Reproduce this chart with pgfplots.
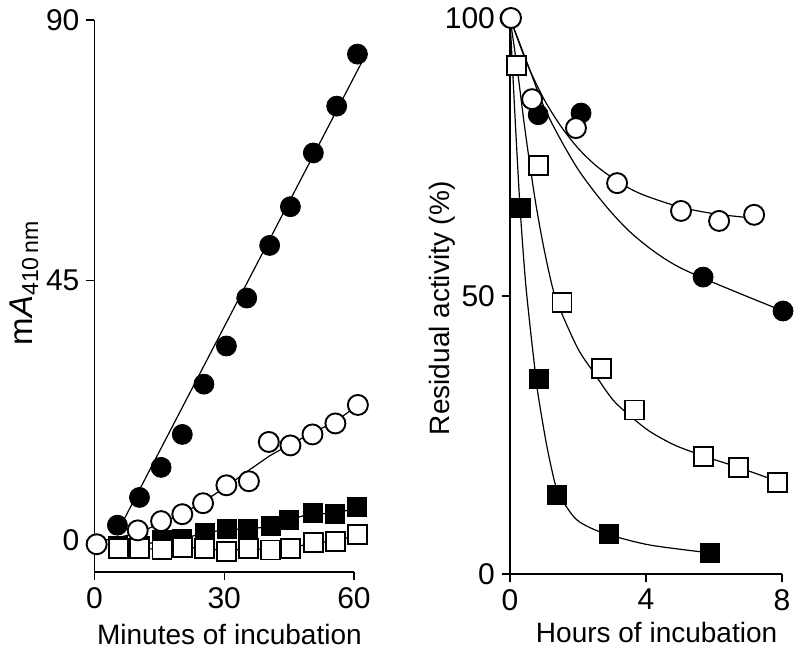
\documentclass[border=0pt]{standalone}
\usepackage{fontspec}
\setmainfont{Liberation Sans}
\usepackage{pgfplots}
\pgfplotsset{compat=1.18}
\begin{document}
\begin{tikzpicture}
\pgfplotsset{
  panel/.style={
    scale only axis, clip=false,
    axis x line*=bottom, axis y line*=left,
    axis line style={-, line width=0.6pt},
    tick align=outside, major tick length=4pt,
    major tick style={black, line width=0.6pt},
    tick label style={font=\fontsize{15}{17}\selectfont},
    label style={font=\fontsize{14}{16}\selectfont},
    /pgf/number format/assume math mode=true,
  },
  fit/.style={black, line width=0.6pt, no markers},
  fc/.style={only marks, mark=*, mark size=5pt, mark options={fill=black, draw=black}},
  oc/.style={only marks, mark=*, mark size=5pt, mark options={fill=white, draw=black, line width=0.95pt}},
  fs/.style={only marks, mark=square*, mark size=4.75pt, mark options={fill=black, draw=black}},
  os/.style={only marks, mark=square*, mark size=4.75pt, mark options={fill=white, draw=black, line width=0.95pt}},
}
\useasboundingbox (0,0) rectangle (400pt,326.5pt);

% left: absorbance vs minutes
\begin{axis}[panel,
  at={(47.25pt,40.5pt)}, anchor=south west,
  width=129.75pt, height=276pt,
  xmin=0, xmax=60, ymin=-5.5, ymax=90,
  xtick={0,30,60}, ytick={0,45,90},
  xlabel={Minutes of incubation},
  ylabel={m\textit{A}\textsubscript{410\,nm}},
  xlabel style={at={(axis description cs:0.52,0)}, anchor=base, yshift=-36.5pt},
  ylabel style={at={(axis description cs:0,0.524)}, anchor=base, yshift=30.75pt,
    font=\fontsize{16.5}{18}\selectfont},
]
\addplot[fit] coordinates {(6.0,2.4) (61.8,82.7)};
\addplot[fit] coordinates {(0.5,-0.3) (10,1.2) (15.4,3.0) (20.3,4.6) (25.1,6.6) (30.5,9.3)
  (35.5,12.0) (40.5,14.6) (45.3,16.6) (50.4,18.6) (55.7,20.5) (60.9,23.4)};
\addplot[fit] coordinates {(5.4,-1.0) (10.5,-1.0) (15.5,0.0) (20.3,0.3) (25.5,1.2) (30.5,1.9)
  (35.5,1.9) (40.7,2.4) (45.0,3.5) (50.4,4.7) (55.5,4.5) (60.7,5.7)};
\addplot[fit] coordinates {(5.5,-1.4) (10.5,-1.4) (15.6,-1.6) (20.3,-1.2) (25.5,-1.4) (30.5,-1.9)
  (35.7,-1.4) (40.7,-1.7) (45.4,-1.4) (50.7,-0.4) (55.8,-0.2) (60.9,1.0)};
% filled squares
\addplot[fs] coordinates {(5.4,-1.0) (10.5,-1.0) (15.5,0.0) (20.3,0.3) (25.5,1.2) (30.5,1.9)
  (35.5,1.9) (40.7,2.4) (45.0,3.5) (50.4,4.7) (55.5,4.5) (60.7,5.7)};
% open squares
\addplot[os] coordinates {(5.5,-1.4) (10.5,-1.4) (15.6,-1.6) (20.3,-1.2) (25.5,-1.4) (30.5,-1.9)
  (35.7,-1.4) (40.7,-1.7) (45.4,-1.4) (50.7,-0.4) (55.8,-0.2) (60.9,1.0)};
% open circles
\addplot[oc] coordinates {(0.5,-0.7) (10.0,1.7) (15.4,3.3) (20.3,4.5) (25.1,6.4) (30.5,9.5)
  (35.7,10.2) (40.3,17.0) (45.3,16.4) (50.4,18.3) (55.7,20.2) (60.9,23.4)};
% filled circles
\addplot[fc] coordinates {(5.3,2.6) (10.4,7.4) (15.4,12.6) (20.3,18.3) (25.3,27.0) (30.5,33.6)
  (35.2,41.9) (40.5,51.0) (45.3,57.7) (50.6,67.0) (56.0,75.1) (60.8,84.1)};
\end{axis}

% right: residual activity vs hours
\begin{axis}[panel,
  at={(255pt,39.5pt)}, anchor=south west,
  width=136pt, height=278pt,
  xmin=0, xmax=8, ymin=0, ymax=100,
  xtick={0,4,8}, ytick={0,50,100},
  xlabel={Hours of incubation},
  ylabel={Residual activity (\%)},
  xlabel style={at={(axis description cs:0.539,0)}, anchor=base, yshift=-34.5pt},
  ylabel style={at={(axis description cs:0,0.478)}, anchor=base, yshift=30pt},
]
\addplot[fit, smooth, tension=0.5] coordinates {(0,100) (0.5,91.8) (1,85.4) (1.5,80.5) (2,76.6)
  (2.5,73.6) (3,71.3) (3.5,69.4) (4,68.0) (5,66.0) (6,64.8) (7.15,64.0)};
\addplot[fit, smooth, tension=0.5] coordinates {(0,100) (0.5,92) (1,84) (1.5,78) (2,72.8)
  (2.5,68.6) (3,64.9) (3.5,61.7) (4,59.1) (4.5,56.9) (5,55.1) (5.68,53.2) (6.5,51.1) (7.3,49.1)
  (8.03,47.3)};
\addplot[fit, smooth, tension=0.5] coordinates {(0,100) (0.2,91.5) (0.45,79.5) (0.74,67.3)
  (1.0,58.5) (1.27,51.1) (1.52,46.9) (2.0,40.5) (2.41,36.7) (3.03,31.3) (3.62,28.0) (4.12,25.6)
  (4.8,23.3) (5.38,21.9) (5.68,21.2) (6.71,19.2) (7.85,16.7)};
\addplot[fit, smooth, tension=0.5] coordinates {(0,100) (0.15,82) (0.29,66.5) (0.45,53) (0.6,44)
  (0.72,37.5) (0.82,32.5) (1.09,22.8) (1.38,15.1) (1.67,12.0) (1.97,9.7) (2.4,8.2) (2.94,7.0)
  (4.12,5.2) (5.88,3.8)};
% filled squares
\addplot[fs] coordinates {(0.32,65.8) (0.85,35.1) (1.38,14.2) (2.91,7.2) (5.88,3.8)};
% open squares
\addplot[os] coordinates {(0.2,91.5) (0.85,73.4) (1.53,48.9) (2.68,36.9) (3.65,29.5) (5.68,21.2)
  (6.71,19.2) (7.88,16.5)};
% filled circles
\addplot[fc] coordinates {(0,100) (0.83,82.6) (2.09,82.9) (5.68,53.4) (8.03,47.3)};
% open circles
\addplot[oc] coordinates {(0.03,100) (0.65,85.4) (1.94,80.2) (3.15,70.3) (5.03,65.3) (6.15,63.5)
  (7.18,64.6)};
\end{axis}
\end{tikzpicture}
\end{document}
